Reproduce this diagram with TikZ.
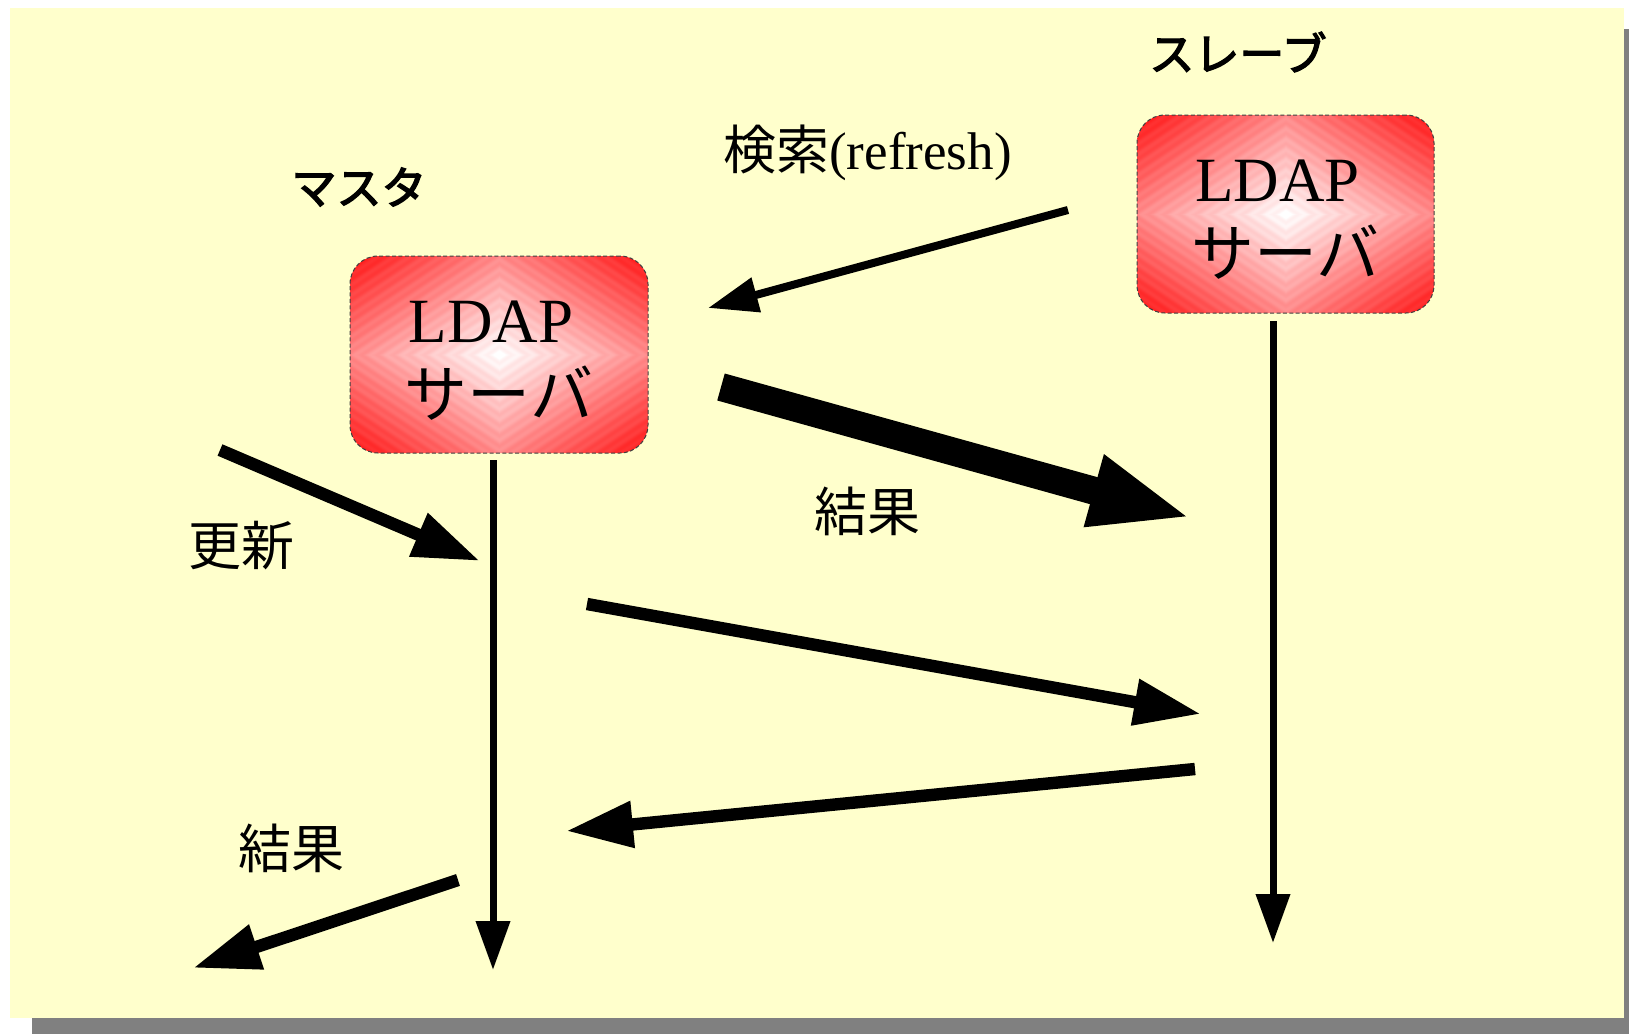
\documentclass[tikz,border=0pt]{standalone}
\usepackage{fontspec}
\setmainfont{Liberation Serif}
\newfontfamily\jp{Noto Sans CJK JP}
\newfontfamily\jpbold{Noto Sans CJK JP}[FakeBold=3]
\usetikzlibrary{arrows.meta}
\definecolor{bgyellow}{RGB}{255,255,204}
\definecolor{shadowgray}{RGB}{128,128,128}
\pgfdeclarefunctionalshading{ldapshade}{\pgfpointorigin}{\pgfpoint{100bp}{100bp}}{}{
  50 sub abs exch 50 sub abs add 50 div
  dup 1 gt {pop 1} if
  dup 6840 mul sin 0.025 mul exch
  0.92 mul 1 exch sub add
  dup 0 lt {pop 0} if
  dup 1 gt {pop 1} if
  1 exch dup
}
\tikzset{
  ldapbox/.style={rounded corners=14pt, draw=black!75, dashed, dash pattern=on 2pt off 1.2pt, line width=0.5pt,
    shading=ldapshade, inner sep=0pt, align=center, text height=64pt, text depth=1.5pt,
    font=\fontsize{31.5}{37.5}\selectfont},
  lab/.style={inner sep=0pt, font=\jp\fontsize{26.5}{30}\selectfont},
  labb/.style={inner sep=0pt, font=\jpbold\fontsize{22.5}{26}\selectfont},
  reflab/.style={inner sep=0pt, font=\fontsize{26.5}{30}\selectfont},
  thinarr/.style={line width=4pt, -{Triangle[length=25pt,width=17pt]}},
  fatarr/.style={line width=14pt, -{Triangle[length=51pt,width=33.5pt]}},
  medarr/.style={line width=6.2pt, -{Triangle[length=33.5pt,width=22pt]}},
  timeline/.style={line width=3.5pt, -{Triangle[length=24.5pt,width=16.5pt]}}
}
\begin{document}
\begin{tikzpicture}[x=0.5pt,y=-0.5pt]
\useasboundingbox (0,0) rectangle (1629,1034);
\fill[shadowgray] (32,29) rectangle (1629,1034);
\fill[bgyellow] (10,8) rectangle (1624,1018);

% servers
\node[ldapbox, minimum width=149pt, minimum height=98.5pt] (master) at (499,354.5) {LDAP\hspace*{0.25em}\\{\jp サーバ}};
\node[ldapbox, minimum width=148.5pt, minimum height=99pt] (slave) at (1285.5,214) {LDAP\hspace*{0.25em}\\{\jp サーバ}};

% labels
\node[labb] (mst) at (359,187) {マスタ};
\node[labb] (slv) at (1238,52) {スレーブ};
\node[reflab] (ref) at (867.5,153) {{\jp 検索}(refresh)};
\node[lab] (upd) at (241,546) {更新};
\node[lab] (res1) at (867,511) {結果};
\node[lab] (res2) at (291,848) {結果};

% timelines
\coordinate (m0) at (493,460);
\coordinate (m1) at (493,970);
\coordinate (s0) at (1273,321);
\coordinate (s1) at (1273,943);
\draw[timeline] (m0) -- (m1);
\draw[timeline] (s0) -- (s1);

% messages
\coordinate (r0) at (1068,210);
\coordinate (r1) at (708,308);
\draw[thinarr] (r0) -- (r1);

\coordinate (t0) at (721,387);
\coordinate (t1) at (1192,518);
\draw[fatarr] (t0) -- (t1);

\coordinate (u0) at (220,450);
\coordinate (u1) at (480,561);
\draw[medarr] (u0) -- (u1);

\coordinate (a0) at (587,604);
\coordinate (a1) at (1201,714);
\draw[medarr] (a0) -- (a1);

\coordinate (b0) at (1195,769);
\coordinate (b1) at (566,831);
\draw[medarr] (b0) -- (b1);

\coordinate (c0) at (458,880);
\coordinate (c1) at (193,968);
\draw[medarr] (c0) -- (c1);
\end{tikzpicture}
\end{document}
